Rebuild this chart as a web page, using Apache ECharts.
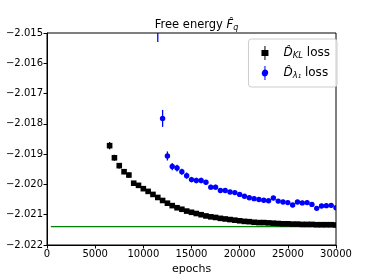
<!DOCTYPE html>
<html>
<head>
<meta charset="utf-8">
<script src="https://cdn.jsdelivr.net/npm/echarts@6/dist/echarts.min.js"></script>
<style>html,body{margin:0;padding:0;background:#fff}#c{width:374px;height:280px}</style>
</head>
<body>
<div id="c"></div>
<script>
var xTicks = [0, 5000, 10000, 15000, 20000, 25000, 30000];
var yTicks = [-2.022, -2.021, -2.020, -2.019, -2.018, -2.017, -2.016, -2.015];

var klEpochs = [6500,7000,7500,8000,8500,9000,9500,10000,10500,11000,11500,12000,12500,13000,13500,14000,14500,15000,15500,16000,16500,17000,17500,18000,18500,19000,19500,20000,20500,21000,21500,22000,22500,23000,23500,24000,24500,25000,25500,26000,26500,27000,27500,28000,28500,29000,29500,30000];
var klValues = [-2.01872,-2.01912,-2.01938,-2.01958,-2.01969,-2.01996,-2.02003,-2.02014,-2.02023,-2.02033,-2.02043,-2.02053,-2.02062,-2.02070,-2.02077,-2.02082,-2.02088,-2.02092,-2.02096,-2.02100,-2.02104,-2.02107,-2.02109,-2.02112,-2.02114,-2.02116,-2.02118,-2.02120,-2.02122,-2.02123,-2.02125,-2.02126,-2.02126,-2.02127,-2.02128,-2.02129,-2.02130,-2.02130,-2.02131,-2.02131,-2.02132,-2.02132,-2.02132,-2.02133,-2.02133,-2.02133,-2.02133,-2.02134];
var klErrors = [0.00012,0.00010,0.00009,0.00008,0.00008,0.00007,0.00007,0.00006,0.00006,0.00006,0.00005,0.00005,0.00005,0.00005,0.00005,0.00004,0.00004,0.00004,0.00004,0.00004,0.00004,0.00004,0.00004,0.00004,0.00004,0.00004,0.00004,0.00004,0.00004,0.00004,0.00004,0.00004,0.00004,0.00004,0.00004,0.00004,0.00004,0.00004,0.00004,0.00004,0.00004,0.00004,0.00004,0.00004,0.00004,0.00004,0.00004,0.00004];

var lamEpochs = [11500,12000,12500,13000,13500,14000,14500,15000,15500,16000,16500,17000,17500,18000,18500,19000,19500,20000,20500,21000,21500,22000,22500,23000,23500,24000,24500,25000,25500,26000,26500,27000,27500,28000,28500,29000,29500,30000];
var lamValues = [-2.01480,-2.01782,-2.01906,-2.01941,-2.01946,-2.01958,-2.01971,-2.01984,-2.01987,-2.01987,-2.01993,-2.02009,-2.02009,-2.02020,-2.02020,-2.02025,-2.02027,-2.02033,-2.02039,-2.02044,-2.02047,-2.02050,-2.02052,-2.02054,-2.02045,-2.02055,-2.02058,-2.02060,-2.02068,-2.02058,-2.02061,-2.02060,-2.02066,-2.02079,-2.02071,-2.02070,-2.02069,-2.02077];
var lamErrors = [0.00050,0.00028,0.00015,0.00012,0.00011,0.00010,0.00010,0.00009,0.00009,0.00009,0.00008,0.00008,0.00008,0.00008,0.00007,0.00007,0.00007,0.00007,0.00007,0.00007,0.00007,0.00007,0.00007,0.00007,0.00007,0.00007,0.00007,0.00007,0.00007,0.00007,0.00007,0.00007,0.00007,0.00007,0.00007,0.00007,0.00007,0.00007];

var refEpochs = [400, 30000];
var refValue = -2.02139;

function zip(xs, ys, es) { return xs.map(function (x, i) { return [x, ys[i], es[i]]; }); }

function makeRender(shape, color) {
  return function (params, api) {
    var x = api.value(0), y = api.value(1), e = api.value(2);
    var c = api.coord([x, y]);
    var top = api.coord([x, y + e]);
    var bot = api.coord([x, y - e]);
    var children = [{
      type: 'line',
      shape: { x1: c[0], y1: top[1], x2: c[0], y2: bot[1] },
      style: { stroke: color, lineWidth: 1.3 }
    }];
    if (shape === 'rect') {
      children.push({ type: 'rect', shape: { x: c[0] - 2.8, y: c[1] - 2.8, width: 5.6, height: 5.6 }, style: { fill: color } });
    } else {
      children.push({ type: 'circle', shape: { cx: c[0], cy: c[1], r: 2.7 }, style: { fill: color } });
    }
    return { type: 'group', children: children };
  };
}

var fmtY = function (v) { return (Math.round(v * 1000) / 1000).toFixed(3).replace('-', '\u2212'); };
var fmtX = function (v) { return String(Math.round(v)); };

var chart = echarts.init(document.getElementById('c'), null, { renderer: 'canvas' });
chart.setOption({
  animation: false,
  textStyle: { fontFamily: 'DejaVu Sans' },
  title: {
    text: '{t|Free energy }{f|F\u0302}{s|q}',
    left: 191.5, textAlign: 'center', top: 14,
    textStyle: {
      fontWeight: 'normal',
      rich: {
        t: { fontSize: 11.5, color: '#000', fontWeight: 'normal', fontFamily: 'DejaVu Sans' },
        f: { fontSize: 11.5, color: '#000', fontWeight: 'normal', fontStyle: 'italic', fontFamily: 'DejaVu Sans' },
        s: { fontSize: 8, color: '#000', fontWeight: 'normal', fontStyle: 'italic', fontFamily: 'DejaVu Sans', padding: [5, 0, 0, 0] }
      }
    }
  },
  legend: {
    orient: 'vertical', right: 37, top: 39,
    padding: [7, 7, 7, 13],
    itemGap: 6, itemWidth: 7, itemHeight: 14,
    backgroundColor: 'rgba(255,255,255,0.8)',
    borderColor: '#cccccc', borderWidth: 1, borderRadius: 3,
    data: [
      { name: 'KL', icon: 'path://M3,0 L4,0 L4,4 L7,4 L7,10 L4,10 L4,14 L3,14 L3,10 L0,10 L0,4 L3,4 Z' },
      { name: 'lam', icon: 'path://M3,0 L4,0 L4,3.6 A3.5,3.5 0 0 1 4,10.4 L4,14 L3,14 L3,10.4 A3.5,3.5 0 0 1 3,3.6 Z' }
    ],
    formatter: function (name) {
      return name === 'KL' ? '{d|D\u0302}{s|KL}{t| loss}' : '{d|D\u0302}{s|\u03bb\u2081}{t| loss}';
    },
    textStyle: {
      padding: [0, 0, 0, 10],
      rich: {
        d: { fontSize: 12, color: '#000', fontStyle: 'italic', fontFamily: 'DejaVu Sans' },
        s: { fontSize: 8.5, color: '#000', fontStyle: 'italic', fontFamily: 'DejaVu Sans', padding: [5, 0, 0, 0] },
        t: { fontSize: 12, color: '#000', fontFamily: 'DejaVu Sans' }
      }
    }
  },
  grid: { left: 47, right: 38, top: 33, bottom: 31, show: true, borderColor: '#000', borderWidth: 1, backgroundColor: 'transparent' },
  xAxis: {
    type: 'value', min: 0, max: 30000, interval: 5000,
    name: 'epochs', nameLocation: 'middle', nameGap: 19,
    nameTextStyle: { fontSize: 11, color: '#000' },
    axisLine: { show: true, onZero: false, lineStyle: { color: '#000', width: 1 } },
    axisTick: { show: true, length: 3.5, lineStyle: { color: '#000' } },
    axisLabel: { fontSize: 10, color: '#000', margin: 4, formatter: fmtX },
    splitLine: { show: false }
  },
  yAxis: {
    type: 'value', min: -2.022, max: -2.015, interval: 0.001,
    axisLine: { show: true, onZero: false, lineStyle: { color: '#000', width: 1 } },
    axisTick: { show: true, length: 3.5, lineStyle: { color: '#000' } },
    axisLabel: { fontSize: 10, color: '#000', margin: 4, formatter: fmtY },
    splitLine: { show: false }
  },
  series: [
    {
      type: 'line', name: 'ref', data: refEpochs.map(function (x) { return [x, refValue]; }),
      symbol: 'none', lineStyle: { color: '#008000', width: 1.3 }, z: 1
    },
    {
      type: 'custom', name: 'KL', color: '#000000', clip: true, z: 3,
      renderItem: makeRender('rect', '#000000'), data: zip(klEpochs, klValues, klErrors),
      encode: { x: 0, y: 1 }
    },
    {
      type: 'custom', name: 'lam', color: '#0000ff', clip: true, z: 2,
      renderItem: makeRender('circle', '#0000ff'), data: zip(lamEpochs, lamValues, lamErrors),
      encode: { x: 0, y: 1 }
    }
  ]
});
</script>
</body>
</html>
